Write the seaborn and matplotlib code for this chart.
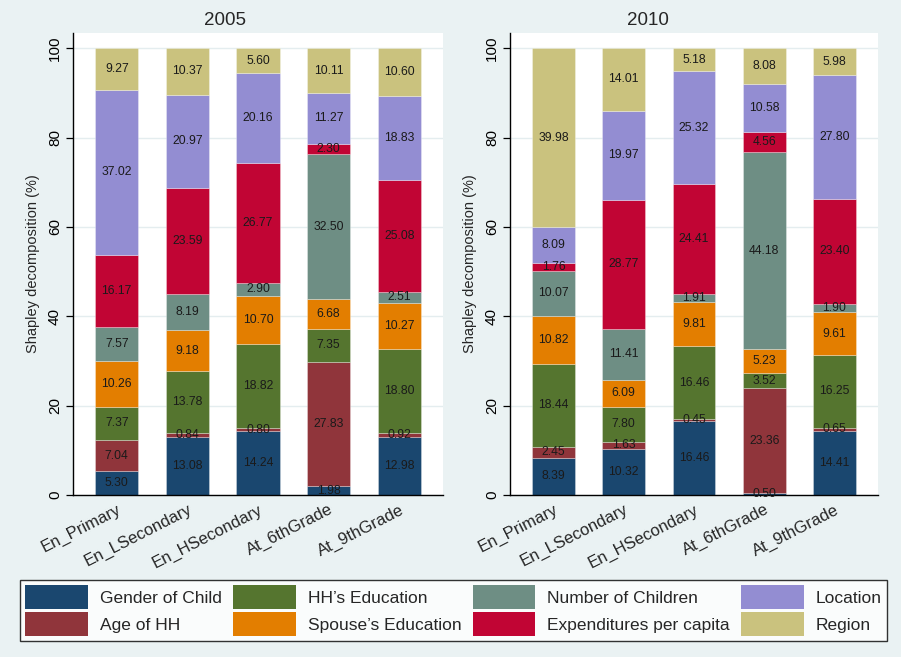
import matplotlib
matplotlib.use("Agg")
import matplotlib.pyplot as plt
from matplotlib.patches import Patch
import seaborn as sns
import numpy as np

categories = ["En_Primary", "En_LSecondary", "En_HSecondary", "At_6thGrade", "At_9thGrade"]
factors = ["Gender of Child", "Age of HH", "HH\u2019s Education", "Spouse\u2019s Education",
           "Number of Children", "Expenditures per capita", "Location", "Region"]
colors = ["#1A476F", "#90353B", "#55752F", "#E37E00",
          "#6E8E84", "#C10534", "#938DD2", "#CAC27E"]
years = ["2005", "2010"]

# 2005
gender_2005 = [5.30, 13.08, 14.24, 1.98, 12.98]
agehh_2005 = [7.04, 0.84, 0.80, 27.83, 0.92]
hhedu_2005 = [7.37, 13.78, 18.82, 7.35, 18.80]
spouse_2005 = [10.26, 9.18, 10.70, 6.68, 10.27]
nchild_2005 = [7.57, 8.19, 2.90, 32.50, 2.51]
expend_2005 = [16.17, 23.59, 26.77, 2.30, 25.08]
location_2005 = [37.02, 20.97, 20.16, 11.27, 18.83]
region_2005 = [9.27, 10.37, 5.60, 10.11, 10.60]

# 2010
gender_2010 = [8.39, 10.32, 16.46, 0.50, 14.41]
agehh_2010 = [2.45, 1.63, 0.45, 23.36, 0.65]
hhedu_2010 = [18.44, 7.80, 16.46, 3.52, 16.25]
spouse_2010 = [10.82, 6.09, 9.81, 5.23, 9.61]
nchild_2010 = [10.07, 11.41, 1.91, 44.18, 1.90]
expend_2010 = [1.76, 28.77, 24.41, 4.56, 23.40]
location_2010 = [8.09, 19.97, 25.32, 10.58, 27.80]
region_2010 = [39.98, 14.01, 5.18, 8.08, 5.98]

data_2005 = [gender_2005, agehh_2005, hhedu_2005, spouse_2005,
             nchild_2005, expend_2005, location_2005, region_2005]
data_2010 = [gender_2010, agehh_2010, hhedu_2010, spouse_2010,
             nchild_2010, expend_2010, location_2010, region_2010]

sns.set_style("ticks")
plt.rcParams["font.family"] = ["Liberation Sans", "DejaVu Sans"]

BG = "#EAF2F3"
fig = plt.figure(figsize=(9.01, 6.57), dpi=100)
fig.patch.set_facecolor(BG)

ax1 = fig.add_axes([73 / 901, 1 - 495 / 657, 370 / 901, 462 / 657])
ax2 = fig.add_axes([510 / 901, 1 - 495 / 657, 368 / 901, 462 / 657])

title_x = [0.41, 0.375]
for ax, year, data, tx in zip([ax1, ax2], years, [data_2005, data_2010], title_x):
    ax.set_facecolor("white")
    bottom = np.zeros(len(categories))
    for name, vals, col in zip(factors, data, colors):
        sns.barplot(x=categories, y=vals, bottom=bottom.copy(), color=col,
                    width=0.61, saturation=1, errorbar=None, ax=ax,
                    linewidth=0.6, edgecolor=(1, 1, 1, 0.35))
        ax.bar_label(ax.containers[-1], labels=[f"{v:.2f}" for v in vals],
                     label_type="center", fontsize=8.7, color="#1a1a1a")
        bottom += np.array(vals)
    ax.set_xlim(-0.62, 4.62)
    ax.set_ylim(0, 103.4)
    ax.set_yticks([0, 20, 40, 60, 80, 100])
    ax.yaxis.grid(True, color="#E4EDEF", linewidth=1)
    ax.set_axisbelow(True)
    for s in ["top", "right"]:
        ax.spines[s].set_visible(False)
    for s in ["left", "bottom"]:
        ax.spines[s].set_color("black")
        ax.spines[s].set_linewidth(1.0)
    ax.tick_params(axis="y", length=5, width=0.9, labelsize=11, colors="black", pad=3)
    ax.tick_params(axis="x", length=0, labelsize=12, pad=5)
    plt.setp(ax.get_yticklabels(), rotation=90, va="center")
    plt.setp(ax.get_xticklabels(), rotation=27, ha="right", rotation_mode="anchor")
    ax.set_ylabel("Shapley decomposition (%)", fontsize=10.5, labelpad=6)
    ax.set_xlabel("")
    ax.set_title(year, fontsize=13.5, x=tx, pad=6)

handles = [Patch(facecolor=c, edgecolor="none") for c in colors]
leg = fig.legend(handles, factors, loc="center", ncol=4, mode="expand",
                 bbox_to_anchor=(20 / 901, 1 - 641 / 657, 867 / 901, 61 / 657),
                 fontsize=12.5, handlelength=3.6, handleheight=1.7,
                 handletextpad=0.7, columnspacing=0.6, labelspacing=0.2,
                 frameon=True, fancybox=False, borderpad=0.3, borderaxespad=0)
leg.get_frame().set_edgecolor("black")
leg.get_frame().set_linewidth(1.0)
leg.get_frame().set_facecolor("white")

fig.savefig("out.png", dpi=100, facecolor=BG)
